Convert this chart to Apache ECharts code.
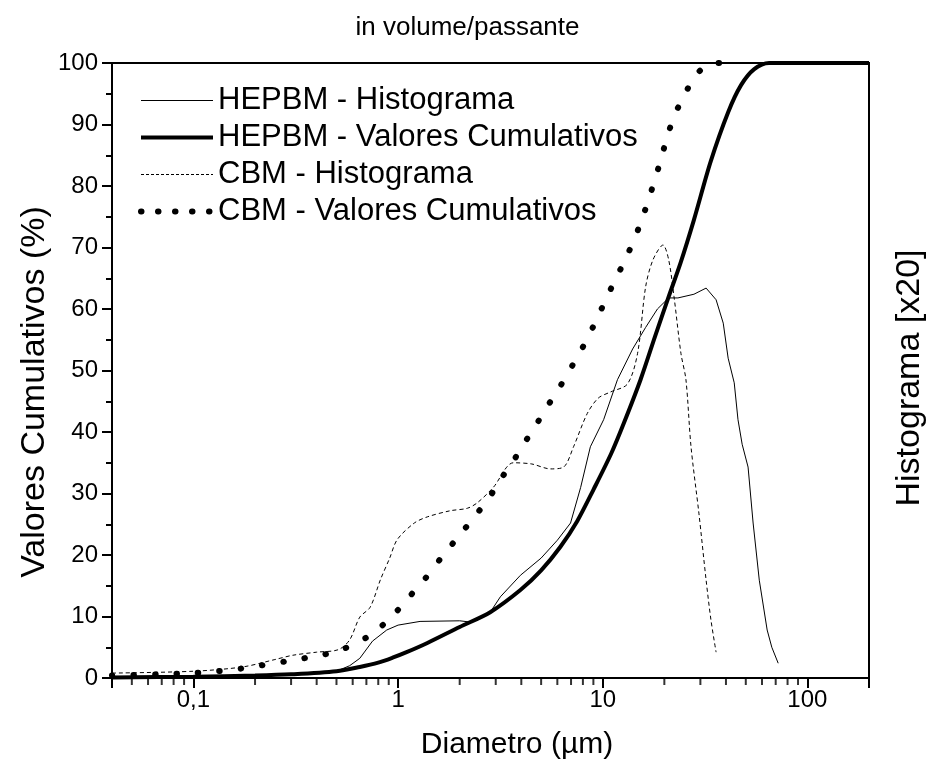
<!DOCTYPE html>
<html>
<head>
<meta charset="utf-8">
<script src="https://cdn.jsdelivr.net/npm/echarts@6/dist/echarts.min.js"></script>
<style>html,body{margin:0;padding:0;background:#fff}#c{width:935px;height:774px}</style>
</head>
<body>
<div id="c"></div>
<script>
// ---- data (diameter in µm, value in %) ----
var hepbmHist = [[0.04,0],[0.1,0.1],[0.2,0.3],[0.3,0.5],[0.5,1.1],[0.58,2.0],[0.65,3.2],[0.75,6.0],[0.88,7.8],[1.0,8.6],[1.28,9.2],[2.0,9.3],[2.25,9.1],[2.82,10.7],[3.16,13.2],[3.96,16.7],[5,19.5],[6.0,22.4],[6.96,25.2],[7.8,31],[8.7,37.6],[10.1,42],[11.8,48.5],[14,53.5],[16.2,57],[18.5,60],[21,61.8],[23.3,61.8],[27.9,62.4],[32,63.4],[35.8,61.5],[38.8,57.7],[41,52],[43.9,48],[45.8,42],[48,38],[51.3,34.3],[54.3,25.2],[58.2,15.9],[63.6,7.8],[67,5],[72,2.4]];
var hepbmCum = [[0.04,0.1],[0.1,0.2],[0.2,0.4],[0.3,0.6],[0.5,1.1],[0.65,1.8],[0.8,2.5],[0.94,3.3],[1.1,4.2],[1.39,5.7],[2.0,8.3],[2.82,10.7],[3.96,14.3],[5,17.5],[6.2,21.3],[7.5,25.5],[9.0,30.6],[11,36.5],[12.7,41.5],[15.3,48.5],[18,55.5],[21,62],[24,67.5],[27.9,74.5],[33.7,84],[41,92],[47.4,96.4],[55,99],[65,100],[200,100]];
var cbmHist = [[0.04,0.8],[0.1,1.1],[0.174,1.8],[0.25,3],[0.306,3.7],[0.4,4.2],[0.51,4.6],[0.58,6.2],[0.65,9.9],[0.73,11.5],[0.82,16],[0.91,19.5],[0.99,22.5],[1.2,25.2],[1.39,26.2],[1.8,27.2],[2.18,27.6],[2.44,28.5],[2.92,31],[3.66,35],[4.5,34.8],[5.55,34],[6.44,34.3],[7.2,37.6],[8.4,43],[9.5,45.5],[10.9,46.5],[13.2,47.8],[14.8,52.8],[16.2,63.6],[17.6,68],[19.7,70.4],[21,68],[22.3,62],[24.1,52.8],[25.5,48.5],[27,37.6],[29.5,26.8],[32,15.9],[33.8,9.4],[35.8,4.2]];
var cbmCum = [[0.04,0.4],[0.067,0.6],[0.1,0.8],[0.13,1.1],[0.168,1.5],[0.306,2.9],[0.4,3.6],[0.51,4.4],[0.71,6.7],[0.92,9.8],[1.12,13],[1.33,15.8],[1.62,19.5],[2.04,23.6],[2.44,26.8],[2.86,29.9],[3.23,32.7],[3.66,35.3],[4.05,37.7],[4.69,41],[5.37,44.2],[6.14,47.2],[8.05,54],[9.0,57.2],[11.0,63.4],[13.2,68.8],[15.2,73.7],[17.2,79],[19.2,84.2],[21,88.8],[23.3,92.7],[28.5,98],[32.6,99.7],[36,100],[45,100]];
var seriesNames = ['HEPBM - Histograma','HEPBM - Valores Cumulativos','CBM - Histograma','CBM - Valores Cumulativos'];
var xMin = 0.04, xMax = 200;
var xMinorTicks = [0.05,0.06,0.07,0.08,0.09,0.2,0.3,0.4,0.5,0.6,0.7,0.8,0.9,2,3,4,5,6,7,8,9,20,30,40,50,60,70,80,90];
var titleText = 'in volume/passante';
var xName = 'Diametro (µm)';
var yLeftName = 'Valores Cumulativos (%)';
var yRightName = 'Histograma [x20]';

var FONT = 'Liberation Sans, Arial, sans-serif';
var chart = echarts.init(document.getElementById('c'), null, {renderer:'canvas'});
function isDecade(v){ var l = Math.log10(v); return Math.abs(l - Math.round(l)) < 1e-6; }
var lineStyles = [
  { color: '#000', width: 1, type: 'solid' },
  { color: '#000', width: 4, type: 'solid' },
  { color: '#000', width: 1, type: [4, 3] },
  { color: '#000', width: 6, type: [0.5, 21], cap: 'round' }
];
var legendStyles = [
  { color: '#000', width: 1, type: 'solid' },
  { color: '#000', width: 4, type: 'solid' },
  { color: '#000', width: 1, type: [3, 2] },
  { color: '#000', width: 6, type: [0.5, 16.5], cap: 'round' }
];
function nameText(x, y, rot, txt, size) {
  return { type: 'text', x: x, y: y, rotation: rot, silent: true,
    style: { text: txt, fontFamily: FONT, fontSize: size, fill: '#000',
      align: 'center', verticalAlign: 'middle', textAlign: 'center', textVerticalAlign: 'middle' } };
}
var option = {
  animation: false,
  backgroundColor: '#fff',
  title: { text: titleText, left: 'center', top: 10,
    textStyle: { fontFamily: FONT, fontSize: 26, fontWeight: 'normal', color: '#000' } },
  grid: { left: 112, right: 66, top: 63, bottom: 96, show: true, borderColor: '#000', borderWidth: 2, backgroundColor: 'transparent' },
  legend: {
    data: seriesNames.map(function(n, i){ return { name: n, lineStyle: legendStyles[i] }; }),
    orient: 'vertical', left: 133, top: 80,
    itemWidth: 72, itemHeight: 14, itemGap: 6,
    itemStyle: { opacity: 0 },
    textStyle: { fontFamily: FONT, fontSize: 31, color: '#000', lineHeight: 31 },
    selectedMode: false
  },
  graphic: [
    nameText(517, 745, 0, xName, 30),
    nameText(35, 392, Math.PI / 2, yLeftName, 34),
    nameText(910, 378, Math.PI / 2, yRightName, 34)
  ],
  xAxis: {
    type: 'log', logBase: 10, min: xMin, max: xMax,
    axisLine: { show: true, lineStyle: { color: '#000', width: 2 } },
    axisTick: { show: true, inside: false, length: 10, lineStyle: { color: '#000', width: 2 } },
    axisLabel: { fontFamily: FONT, fontSize: 24, color: '#000', margin: 10,
      formatter: function(v){ if (!isDecade(v)) return ''; return String(Number(v.toPrecision(6))).replace('.', ','); } },
    splitLine: { show: false }
  },
  yAxis: [{
    type: 'value', min: 0, max: 100, interval: 10,
    axisLine: { show: true, lineStyle: { color: '#000', width: 2 } },
    axisTick: { show: true, inside: false, length: 10, lineStyle: { color: '#000', width: 2 } },
    minorTick: { show: true, splitNumber: 2, length: 6, lineStyle: { color: '#000', width: 2 } },
    axisLabel: { fontFamily: FONT, fontSize: 24, color: '#000', margin: 14 },
    splitLine: { show: false }
  }, {
    type: 'value', min: 0, max: 100, position: 'right',
    axisLine: { show: true, lineStyle: { color: '#000', width: 2 } },
    axisTick: { show: false }, axisLabel: { show: false }, splitLine: { show: false }
  }],
  series: [
    { name: seriesNames[0], type: 'line', data: hepbmHist, symbol: 'none', showSymbol: false, smooth: false,
      lineStyle: lineStyles[0], itemStyle: { color: '#000' } },
    { name: seriesNames[1], type: 'line', data: hepbmCum, symbol: 'none', showSymbol: false, smooth: 0.3,
      lineStyle: lineStyles[1], itemStyle: { color: '#000' } },
    { name: seriesNames[2], type: 'line', data: cbmHist, symbol: 'none', showSymbol: false, smooth: 0.3,
      lineStyle: lineStyles[2], itemStyle: { color: '#000' } },
    { name: seriesNames[3], type: 'line', data: cbmCum, symbol: 'none', showSymbol: false, smooth: 0.3,
      lineStyle: lineStyles[3], itemStyle: { color: '#000' } },
    { name: 'minorTicks', type: 'scatter', silent: true, clip: false,
      data: xMinorTicks.map(function(v){ return [v, 0]; }),
      symbol: 'rect', symbolSize: [2, 6], symbolOffset: [0, 4],
      itemStyle: { color: '#000' }, z: 5 }
  ]
};
chart.setOption(option);
</script>
</body>
</html>
